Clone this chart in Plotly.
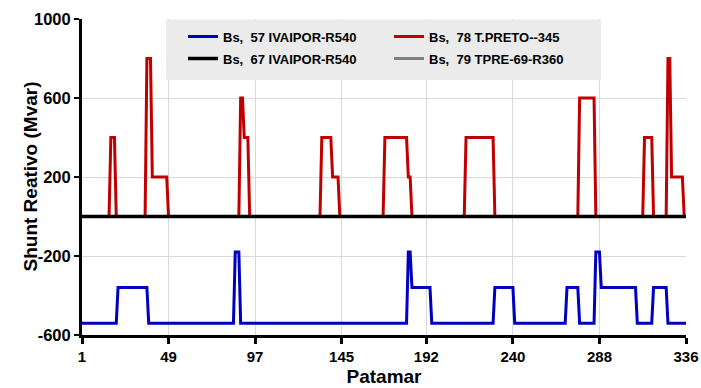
import plotly.graph_objects as go

# ---- data ----
tick_vals = [1, 49, 97, 145, 192, 240, 288, 336]
tick_text = ["1", "49", "97", "145", "192", "240", "288", "336"]
ytick_vals = [-600, -200, 200, 600, 1000]
ytick_text = ["-600", "-200", "200", "600", "1000"]
x_title = "Patamar"
y_title = "Shunt Reativo (Mvar)"

# Bs, 78 T.PRETO--345 (breakpoints of the step series)
red_x = [1, 16, 17, 19, 20, 36, 37, 39, 40, 48, 49, 88, 89, 90, 91, 93, 94,
         133, 134, 139, 140, 143, 144, 168, 169, 181, 182, 183, 184, 213, 214,
         229, 230, 276, 277, 285, 286, 312, 313, 317, 318, 325, 326, 327, 328,
         334, 335, 336]
red_y = [0, 0, 400, 400, 0, 0, 800, 800, 200, 200, 0, 0, 600, 600, 400, 400, 0,
         0, 400, 400, 200, 200, 0, 0, 400, 400, 200, 200, 0, 0, 400,
         400, 0, 0, 600, 600, 0, 0, 400, 400, 0, 0, 800, 800, 200,
         200, 0, 0]

# Bs, 57 IVAIPOR-R540
blue_x = [1, 20, 21, 37, 38, 85, 86, 88, 89, 181, 182, 183, 184, 194, 195,
          229, 230, 240, 241, 269, 270, 276, 277, 285, 286, 288, 289, 308, 309,
          317, 318, 325, 326, 336]
blue_y = [-540, -540, -360, -360, -540, -540, -180, -180, -540, -540, -180, -180,
          -360, -360, -540, -540, -360, -360, -540, -540, -360, -360, -540, -540,
          -180, -180, -360, -360, -540, -540, -360, -360, -540, -540]

# Bs, 67 IVAIPOR-R540
black_x = [1, 336]
black_y = [0, 0]

# Bs, 79 TPRE-69-R360
gray_x = [1, 336]
gray_y = [0, 0]

names = {
    "blue": "Bs,\u00a0\u00a057 IVAIPOR-R540",
    "black": "Bs,\u00a0\u00a067 IVAIPOR-R540",
    "red": "Bs,\u00a0\u00a078 T.PRETO--345",
    "gray": "Bs,\u00a0\u00a079 TPRE-69-R360",
}

FONT = "Liberation Sans, Arial, sans-serif"
W, H = 701, 388
ML, MR, MT, MB = 82, 15, 19, 53
PW, PH = W - ML - MR, H - MT - MB


def px_to_paper_x(px):
    return (px - ML) / PW


def px_to_paper_y(py):
    return 1 - (py - MT) / PH


fig = go.Figure()
fig.add_trace(go.Scatter(x=gray_x, y=gray_y, mode="lines", name=names["gray"],
                         line=dict(color="#808080", width=3), legend="legend2", legendrank=2))
fig.add_trace(go.Scatter(x=red_x, y=red_y, mode="lines", name=names["red"],
                         line=dict(color="#c00000", width=3), legend="legend", legendrank=2))
fig.add_trace(go.Scatter(x=blue_x, y=blue_y, mode="lines", name=names["blue"],
                         line=dict(color="#0000c0", width=3), legend="legend", legendrank=1))
fig.add_trace(go.Scatter(x=black_x, y=black_y, mode="lines", name=names["black"],
                         line=dict(color="#000000", width=3.5), legend="legend2", legendrank=1))

legend_common = dict(
    orientation="h", xanchor="left", yanchor="top",
    bgcolor="rgba(0,0,0,0)", borderwidth=0,
    font=dict(family=FONT, size=13, color="#000000", weight="bold"),
    entrywidth=161, entrywidthmode="pixels", itemclick=False,
)

fig.update_layout(
    width=W, height=H,
    margin=dict(l=ML, r=MR, t=MT, b=MB, pad=0, autoexpand=False),
    paper_bgcolor="white", plot_bgcolor="white",
    showlegend=True,
    legend=dict(x=px_to_paper_x(183), y=px_to_paper_y(21.5), **legend_common),
    legend2=dict(x=px_to_paper_x(183), y=px_to_paper_y(43.5), **legend_common),
    font=dict(family=FONT, color="#000000"),
    shapes=[dict(type="rect", xref="paper", yref="paper",
                 x0=px_to_paper_x(166), x1=px_to_paper_x(601),
                 y0=px_to_paper_y(80), y1=px_to_paper_y(19.5),
                 fillcolor="#ebebeb", line=dict(width=0), layer="above")],
    annotations=[dict(text=y_title, textangle=-90, xref="paper", yref="paper",
                      x=px_to_paper_x(29.5), y=0.5, xanchor="center", yanchor="middle",
                      showarrow=False,
                      font=dict(family=FONT, size=19, weight="bold", color="#000000"))],
)

fig.update_xaxes(
    range=[1, 336], tickmode="array", tickvals=tick_vals, ticktext=tick_text,
    showgrid=True, gridcolor="#d9d9d9", gridwidth=1,
    showline=True, linecolor="#000000", linewidth=3,
    ticks="outside", ticklen=6, tickwidth=3, tickcolor="#000000",
    tickfont=dict(family=FONT, size=15, weight="bold"),
    title=dict(text=x_title, font=dict(family=FONT, size=19, weight="bold"), standoff=6),
    zeroline=False, automargin=False,
)
fig.update_yaxes(
    range=[-600, 1000], tickmode="array", tickvals=ytick_vals, ticktext=ytick_text,
    showgrid=True, gridcolor="#d9d9d9", gridwidth=1,
    showline=True, linecolor="#000000", linewidth=3,
    ticks="outside", ticklen=5, tickwidth=2, tickcolor="#000000",
    tickfont=dict(family=FONT, size=16.5, weight="bold"),
    zeroline=False, automargin=False,
)

fig.write_html("out.html")
